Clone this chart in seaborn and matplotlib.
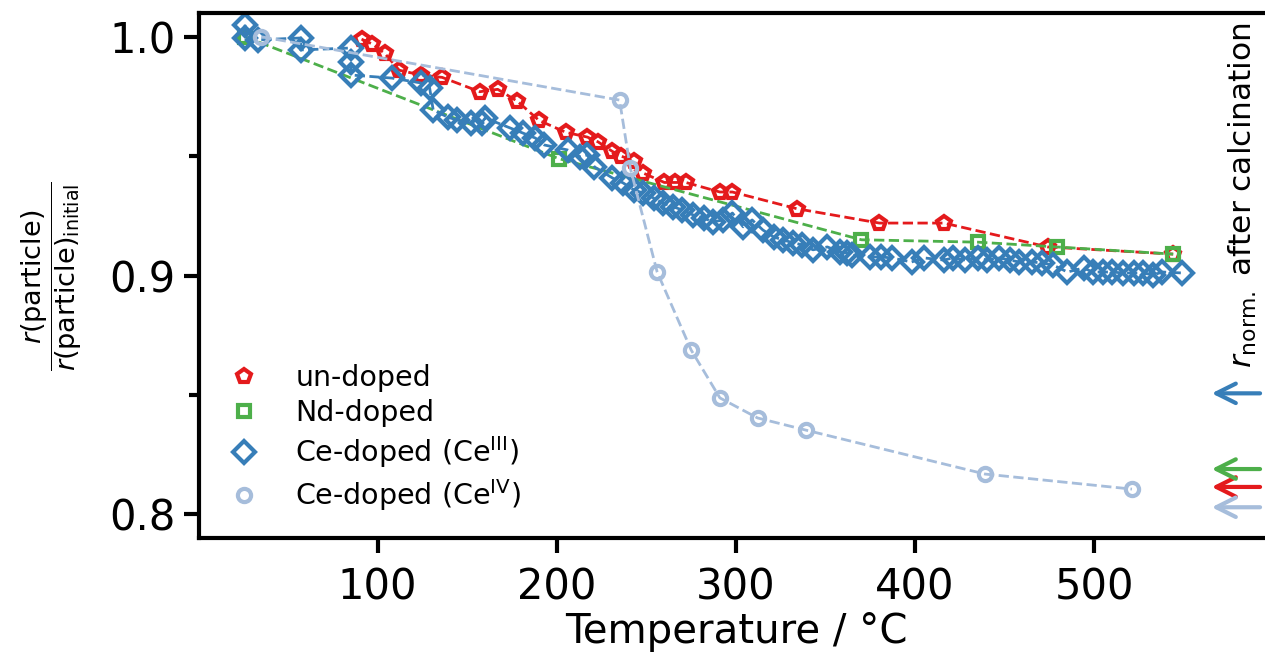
import matplotlib
matplotlib.use("Agg")
import matplotlib.pyplot as plt
import seaborn as sns
from matplotlib.lines import Line2D

# values: temperature / °C and r(particle)/r(particle)_initial
T_undoped = [91, 97, 104, 112, 124, 136, 157, 167, 178, 190, 205, 217, 223, 231, 236, 243,
             248, 260, 266, 272, 291, 298, 334, 380, 416, 474, 544]
r_undoped = [0.999, 0.997, 0.993, 0.986, 0.984, 0.983, 0.977, 0.978, 0.973, 0.965, 0.960,
             0.958, 0.956, 0.952, 0.950, 0.948, 0.943, 0.939, 0.939, 0.939, 0.935, 0.935,
             0.928, 0.922, 0.922, 0.912, 0.909]

T_nd = [26, 201, 370, 435, 479, 544]
r_nd = [1.000, 0.949, 0.915, 0.914, 0.912, 0.909]

T_ce3 = [26, 26, 33, 57, 57, 85, 85, 85, 108, 124, 129, 131, 139, 144, 152, 158,
         160, 174, 181, 188, 193, 206, 213, 217, 221, 231, 237, 243, 248, 254, 259,
         265, 270, 276, 282, 287, 293, 298, 304, 309, 315, 321, 326, 332, 337, 343,
         351, 358, 362, 365, 375, 381, 387, 398, 405, 416, 421, 428, 435, 440, 447,
         453, 458, 465, 471, 477, 485, 494, 499, 505, 510, 516, 522, 527, 533, 538, 549]
r_ce3 = [1.005, 0.9995, 0.9987, 0.9995, 0.9945, 0.9953, 0.9894, 0.984, 0.9827, 0.9807,
         0.9786, 0.9693, 0.9664, 0.9652, 0.9639, 0.9639, 0.966, 0.9618, 0.9597, 0.9576,
         0.9547, 0.9526, 0.9497, 0.9505, 0.9455, 0.9409, 0.9388, 0.9359, 0.9346, 0.9325,
         0.9304, 0.9288, 0.9275, 0.9254, 0.9241, 0.9225, 0.9233, 0.9262, 0.9204, 0.9233,
         0.9191, 0.9162, 0.915, 0.9137, 0.9129, 0.9108, 0.912, 0.9099, 0.9095, 0.9086,
         0.9078, 0.9078, 0.9074, 0.9057, 0.9074, 0.9065, 0.9074, 0.9065, 0.9074, 0.9065,
         0.9074, 0.9065, 0.9057, 0.9057, 0.9053, 0.9044, 0.9015, 0.9032, 0.9015, 0.9015,
         0.9015, 0.9011, 0.9011, 0.9011, 0.9003, 0.9015, 0.9011]

T_ce4 = [35, 235, 241, 256, 275, 291, 312, 339, 439, 521]
r_ce4 = [1.000, 0.9735, 0.945, 0.9015, 0.8688, 0.8488, 0.8404, 0.8353, 0.8169, 0.8106]

labels = ["un-doped", "Nd-doped", "Ce-doped (Ce$^{\\mathrm{III}}$)", "Ce-doped (Ce$^{\\mathrm{IV}}$)"]
colors = ["#e41a1c", "#4daf4a", "#377eb8", "#a6bddb"]
markers = ["p", "s", "D", "o"]
msizes = [10, 9, 11, 9.5]

# r_norm. after calcination (arrows on the right)
calc_r = [0.8115, 0.819, 0.8507, 0.803]

sns.set_style("ticks", {"axes.edgecolor": "black", "xtick.color": "black",
                        "ytick.color": "black", "text.color": "black",
                        "axes.labelcolor": "black"})
plt.rcParams["font.family"] = ["DejaVu Sans"]
plt.rcParams["mathtext.fontset"] = "dejavusans"

fig = plt.figure(figsize=(12.65, 6.64), dpi=100)
ax = fig.add_axes([198.5 / 1265, 1 - 538.3 / 664, 1075 / 1265, 525.4 / 664])

series = [(T_undoped, r_undoped), (T_nd, r_nd), (T_ce3, r_ce3), (T_ce4, r_ce4)]
for (xs, ys), c, m, ms in zip(series, colors, markers, msizes):
    sns.lineplot(x=xs, y=ys, ax=ax, sort=False, estimator=None, color=c,
                 linestyle="--", linewidth=2, marker=m, markersize=ms,
                 markerfacecolor="none", markeredgecolor=c, markeredgewidth=3)

for v, c in zip(calc_r, colors):
    ax.annotate("", xy=(565.5, v), xytext=(592.5, v),
                arrowprops=dict(arrowstyle="->,head_length=0.7,head_width=0.35",
                                color=c, lw=3, shrinkA=0, shrinkB=0, mutation_scale=20))

ax.text(583, 0.9337, r"$r_{\mathrm{norm.}}$ after calcination", rotation=90,
        ha="center", va="center", fontsize=22.5)

ax.set_xlim(0, 600)
ax.set_ylim(0.79, 1.01)
ax.set_xticks([100, 200, 300, 400, 500])
ax.set_yticks([0.8, 0.9, 1.0])
ax.set_yticklabels(["0.8", "0.9", "1.0"])
ax.set_yticks([0.85, 0.95], minor=True)

for s in ax.spines.values():
    s.set_linewidth(3)
ax.tick_params(which="major", length=10.5, width=3, labelsize=30)
ax.tick_params(axis="y", which="minor", length=7, width=3)
ax.tick_params(axis="x", pad=10)
ax.tick_params(axis="y", pad=6)

ax.set_xlabel("Temperature / °C", fontsize=29, labelpad=2)
ax.set_ylabel(r"$\dfrac{r\mathrm{(particle)}}{r\mathrm{(particle)}_{\mathrm{initial}}}$",
              fontsize=19.5, labelpad=18)

handles = [Line2D([], [], ls="none", marker=m, markersize=ms, markerfacecolor="none",
                  markeredgecolor=c, markeredgewidth=3)
           for c, m, ms in zip(colors, markers, msizes)]
ax.legend(handles, labels, loc="lower left", bbox_to_anchor=(-0.008, 0.0), frameon=False,
          fontsize=20.5, labelspacing=0.24, handletextpad=0.8, borderaxespad=0.5)

fig.savefig("out.png", dpi=100)
